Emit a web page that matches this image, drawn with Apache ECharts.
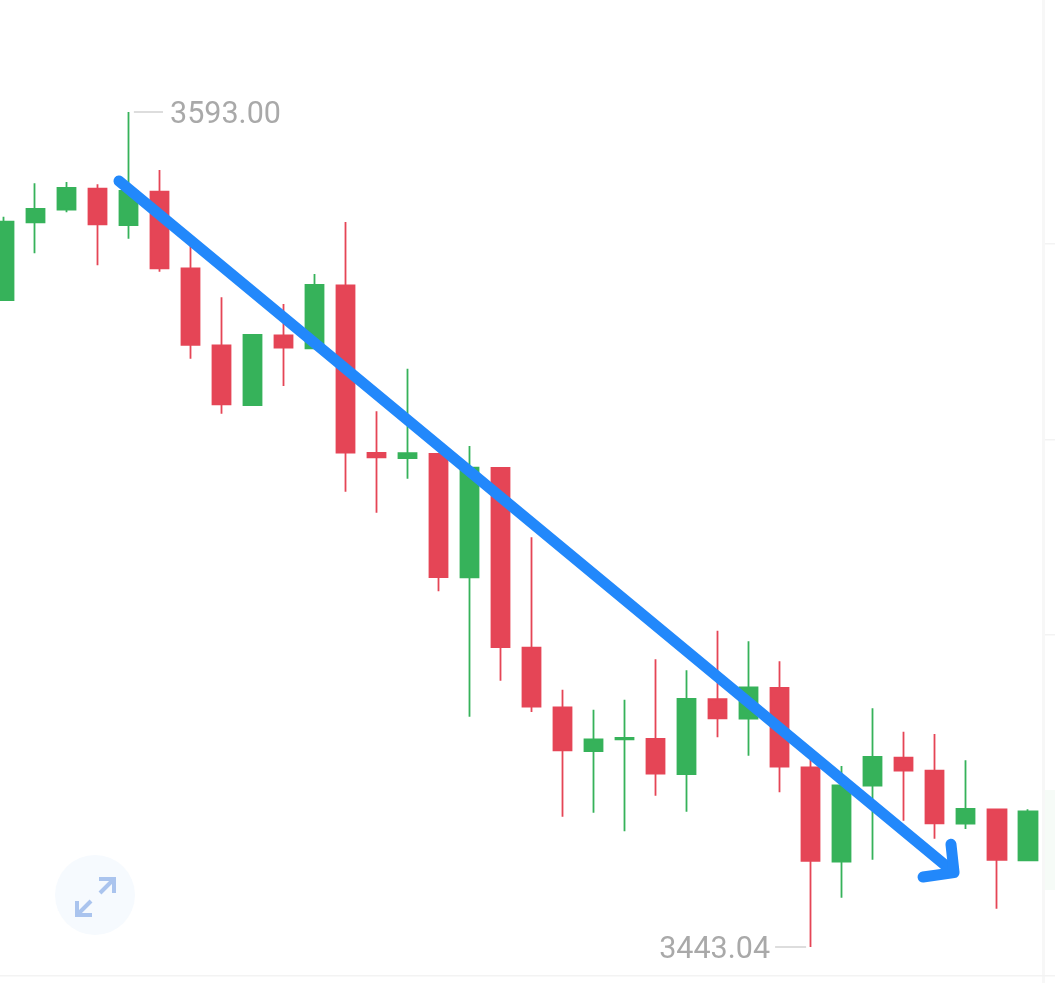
<!DOCTYPE html>
<html>
<head>
<meta charset="utf-8">
<style>html,body{margin:0;padding:0;background:#fff}#c{width:1055px;height:983px}</style>
<script src="https://cdn.jsdelivr.net/npm/echarts@6/dist/echarts.min.js"></script>
</head>
<body>
<div id="c"></div>
<script>
// Each candle: open, close, low, high (green = close above open)
const categories = Array.from({length: 34}, (_, i) => String(i + 1));
const opens = [3559.24,3573.19,3575.45,3579.23,3572.71,3578.69,3564.93,3551.10,3540.38,3552.90,3550.56,3561.88,3531.76,3530.86,3531.58,3509.44,3529.07,3496.79,3486.09,3478.24,3480.34,3480.40,3474.11,3487.53,3484.04,3489.56,3475.31,3458.36,3472.01,3477.04,3474.70,3465.19,3467.77,3458.61];
const closes = [3573.30,3575.58,3579.35,3572.83,3578.81,3564.93,3551.16,3540.51,3552.95,3550.67,3561.93,3531.81,3530.99,3531.71,3509.49,3529.12,3496.92,3486.20,3478.37,3480.34,3480.58,3474.16,3487.58,3484.11,3489.68,3475.42,3458.49,3472.08,3477.16,3474.70,3465.26,3467.83,3458.67,3467.41];
const lows = [3559.06,3567.62,3574.99,3565.47,3570.25,3564.32,3548.70,3538.82,3540.20,3543.79,3550.56,3524.81,3521.04,3527.14,3506.92,3484.40,3490.87,3485.25,3466.44,3467.16,3463.82,3470.22,3467.34,3480.70,3477.40,3470.83,3443.04,3451.90,3458.72,3465.72,3462.49,3464.23,3449.92,3458.61];
const highs = [3574.20,3580.20,3580.43,3580.02,3593.00,3582.58,3569.11,3559.72,3553.13,3558.52,3563.91,3573.25,3539.25,3546.90,3531.58,3533.02,3529.07,3516.62,3489.25,3485.66,3487.46,3494.71,3492.73,3499.85,3497.94,3494.35,3476.63,3475.55,3485.91,3481.71,3481.30,3476.57,3467.77,3467.77];
const priceMax = 3593.00;
const priceMin = 3443.04;
const highLabel = '3593.00';
const lowLabel = '3443.04';
// Annotation paths as [candle position, price]
const arrowShaft = [[3.70,3580.61],[30.58,3456.60]];
const arrowHead = [[30.52,3461.50],[30.62,3456.40],[29.62,3455.60]];
const highLeader = [[4.18,3593.00],[5.12,3593.00]];
const lowLeader = [[24.85,3443.04],[25.85,3443.04]];

const candles = categories.map((_, i) => [opens[i], closes[i], lows[i], highs[i]]);
const RED = '#e54556', GREEN = '#36b25a', BLUE = '#2288fb', GREY = '#a9a9a9';
const labelFont = {fontFamily: 'Roboto', fontSize: 30.5, color: GREY};

function leader(data, text, idx, pos, dist) {
  return {
    type: 'line', xAxisIndex: 1, yAxisIndex: 0, silent: true, symbol: 'circle', symbolSize: 0.01, showSymbol: true, z: 3, clip: false,
    lineStyle: {color: '#d2d2d2', width: 1.5},
    data: data.map((p, i) => i === idx
      ? {value: p, label: {show: true, position: pos, distance: dist, offset: [0, 3], formatter: text, ...labelFont}}
      : {value: p})
  };
}
function arrowPart(data) {
  return {
    type: 'line', xAxisIndex: 1, yAxisIndex: 0, silent: true, symbol: 'none', z: 10, clip: false,
    lineStyle: {color: BLUE, width: 11, cap: 'round', join: 'round'},
    data: data
  };
}

const chart = echarts.init(document.getElementById('c'), null, {renderer: 'canvas'});
chart.setOption({
  animation: false,
  backgroundColor: '#ffffff',
  grid: {left: -11.3, width: 1054.7, top: 112, height: 835, containLabel: false, outerBoundsMode: 'none'},
  xAxis: [
    {type: 'category', data: categories, show: false, boundaryGap: true},
    {type: 'value', min: -0.5, max: 33.5, show: false}
  ],
  yAxis: {type: 'value', min: priceMin, max: priceMax, show: false, splitLine: {show: false}},
  series: [
    {
      type: 'candlestick', data: candles, barWidth: 18.8, clip: false, z: 2,
      itemStyle: {color: GREEN, color0: RED, borderColor: GREEN, borderColor0: RED, borderColorDoji: GREEN, borderWidth: 1.8}
    },
    leader(highLeader, highLabel, 1, 'right', 7),
    leader(lowLeader, lowLabel, 0, 'left', 5),
    arrowPart(arrowShaft),
    arrowPart(arrowHead)
  ],
  graphic: [
    {type: 'rect', silent: true, z: -1, shape: {x: 1042, y: 0, width: 3, height: 983}, style: {fill: '#f7f7f7'}},
    {type: 'rect', silent: true, z: -1, shape: {x: 1045, y: 243, width: 10, height: 1.5}, style: {fill: '#f3f3f3'}},
    {type: 'rect', silent: true, z: -1, shape: {x: 1045, y: 439, width: 10, height: 1.5}, style: {fill: '#f3f3f3'}},
    {type: 'rect', silent: true, z: -1, shape: {x: 1045, y: 634, width: 10, height: 1.5}, style: {fill: '#f3f3f3'}},
    {type: 'rect', silent: true, z: -1, shape: {x: 0, y: 975, width: 1055, height: 1.5}, style: {fill: '#f3f3f3'}},
    {type: 'rect', silent: true, z: -1, shape: {x: 1045, y: 790, width: 10, height: 100}, style: {fill: '#f6fbf7'}},
    {type: 'circle', silent: true, z: 1, shape: {cx: 95, cy: 895, r: 40}, style: {fill: '#f6fafe'}},
    {type: 'polyline', silent: true, z: 1, shape: {points: [[99,879],[114,879],[114,893]]}, style: {fill: null, stroke: '#aac4ee', lineWidth: 4}},
    {type: 'line', silent: true, z: 1, shape: {x1: 114, y1: 879, x2: 100, y2: 893}, style: {stroke: '#aac4ee', lineWidth: 4}},
    {type: 'polyline', silent: true, z: 1, shape: {points: [[77,901],[77,915],[92,915]]}, style: {fill: null, stroke: '#aac4ee', lineWidth: 4}},
    {type: 'line', silent: true, z: 1, shape: {x1: 77, y1: 915, x2: 91, y2: 901}, style: {stroke: '#aac4ee', lineWidth: 4}}
  ]
});
</script>
</body>
</html>
